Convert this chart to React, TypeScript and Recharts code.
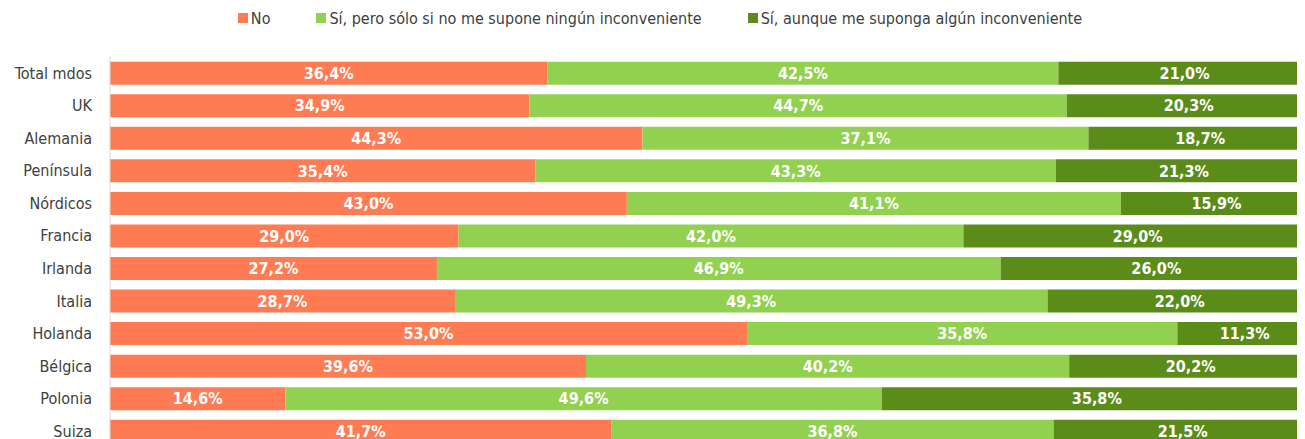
import { BarChart, Bar, XAxis, YAxis, Legend, LabelList } from "recharts";

const categories = [
  "Total mdos",
  "UK",
  "Alemania",
  "Península",
  "Nórdicos",
  "Francia",
  "Irlanda",
  "Italia",
  "Holanda",
  "Bélgica",
  "Polonia",
  "Suiza",
];
const noValues = [36.4, 34.9, 44.3, 35.4, 43.0, 29.0, 27.2, 28.7, 53.0, 39.6, 14.6, 41.7];
const siPeroValues = [42.5, 44.7, 37.1, 43.3, 41.1, 42.0, 46.9, 49.3, 35.8, 40.2, 49.6, 36.8];
const siAunqueValues = [21.0, 20.3, 18.7, 21.3, 15.9, 29.0, 26.0, 22.0, 11.3, 20.2, 35.8, 21.5];

const series = [
  { key: "no", name: "No", color: "#FF7B53" },
  { key: "siPero", name: "Sí, pero sólo si no me supone ningún inconveniente", color: "#92D050" },
  { key: "siAunque", name: "Sí, aunque me suponga algún inconveniente", color: "#5B8C1A" },
];

const data = categories.map((name, i) => ({
  name,
  no: noValues[i],
  siPero: siPeroValues[i],
  siAunque: siAunqueValues[i],
}));

const FONT = '"Liberation Sans Narrow", "DejaVu Sans Condensed", "Open Sans", sans-serif';

const fmt = (v: any) => Number(v).toFixed(1).replace(".", ",") + "%";

function LegendContent() {
  return (
    <div
      style={{
        height: 30,
        display: "flex",
        justifyContent: "center",
        alignItems: "center",
        gap: 46,
        fontFamily: FONT,
        fontSize: 16,
        color: "#404040",
      }}
    >
      {series.map((s) => (
        <div key={s.key} style={{ display: "flex", alignItems: "center" }}>
          <span style={{ width: 10, height: 10, background: s.color, marginRight: 3 }} />
          <span>{s.name}</span>
        </div>
      ))}
    </div>
  );
}

export default function App() {
  return (
    <div style={{ width: 1297, height: 431, overflow: "hidden" }}>
      <BarChart
        width={1304}
        height={460}
        data={data}
        layout="vertical"
        margin={{ top: 18.7, right: 0, bottom: 20.7, left: 0 }}
        barSize={23}
      >
        <Legend
          verticalAlign="top"
          align="center"
          content={<LegendContent />}
          wrapperStyle={{ top: -5, left: 0, width: 1304 }}
        />
        <XAxis type="number" domain={[0, 100]} allowDataOverflow hide />
        <YAxis
          type="category"
          dataKey="name"
          width={102}
          axisLine={{ stroke: "#D9D9D9" }}
          tickLine={false}
          tickMargin={12}
          tick={{ fontFamily: FONT, fontSize: 16, fill: "#404040" }}
        />
        {series.map((s) => (
          <Bar
            key={s.key}
            dataKey={s.key}
            name={s.name}
            stackId="a"
            fill={s.color}
            isAnimationActive={false}
          >
            <LabelList
              dataKey={s.key}
              position="center"
              formatter={fmt}
              style={{ fontFamily: FONT, fontSize: 16, fontWeight: 700, fill: "#FFFFFF" }}
            />
          </Bar>
        ))}
      </BarChart>
    </div>
  );
}
